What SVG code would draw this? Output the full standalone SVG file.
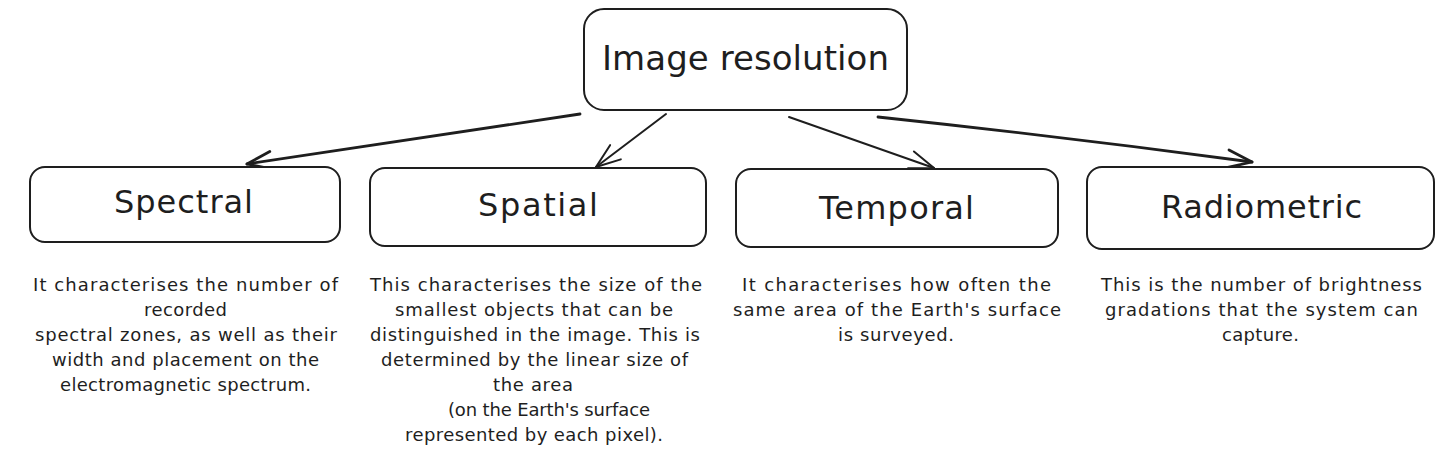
<svg xmlns="http://www.w3.org/2000/svg" width="1443" height="458" viewBox="0 0 1443 458">
  <style>
    .box { fill: #ffffff; stroke: #1e1e1e; stroke-width: 2; }
    .title { font-family: "DejaVu Sans", "Liberation Sans", sans-serif; font-size: 32px; fill: #1e1e1e; text-anchor: middle; }
    .main { font-size: 34px; }
    .desc { font-family: "DejaVu Sans", "Liberation Sans", sans-serif; font-size: 18px; fill: #1e1e1e; text-anchor: middle; }
    .conn { fill: none; stroke: #1e1e1e; stroke-linecap: round; }
    .thick { stroke-width: 2.8; }
    .thin { stroke-width: 2; }
  </style>
  <defs>
    <marker id="arrowThick" markerUnits="userSpaceOnUse" viewBox="-30 -15 34 30" refX="0" refY="0" markerWidth="34" markerHeight="30" orient="auto">
      <path d="M -24.4 -8.9 L 0 0 L -24.4 8.9" fill="none" stroke="#1e1e1e" stroke-width="2.8" stroke-linecap="round" stroke-linejoin="round"/>
    </marker>
    <marker id="arrowThin" markerUnits="userSpaceOnUse" viewBox="-30 -15 34 30" refX="0" refY="0" markerWidth="34" markerHeight="30" orient="auto">
      <path d="M -24.4 -8.9 L 0 0 L -24.4 8.9" fill="none" stroke="#1e1e1e" stroke-width="2" stroke-linecap="round" stroke-linejoin="round"/>
    </marker>
  </defs>
  <rect width="1443" height="458" fill="#ffffff"/>

  <g id="connectors">
    <path class="conn thick" d="M 580 114 L 247 164" marker-end="url(#arrowThick)"/>
    <path class="conn thin" d="M 666 114 L 596 167" marker-end="url(#arrowThin)"/>
    <path class="conn thin" d="M 789 117 L 934 168" marker-end="url(#arrowThin)"/>
    <path class="conn thick" d="M 878 117 Q 1066 137 1252 162" marker-end="url(#arrowThick)"/>
  </g>

  <g id="node-image-resolution">
    <rect class="box" x="584" y="9" width="323" height="101" rx="20" ry="20"/>
    <text class="title main" x="745.5" y="70" textLength="287">Image resolution</text>
  </g>

  <g id="node-spectral">
    <rect class="box" x="30" y="167" width="310" height="75" rx="15" ry="15"/>
    <text class="title" x="183.5" y="213" textLength="139">Spectral</text>
  </g>

  <g id="node-spatial">
    <rect class="box" x="370" y="168" width="336" height="78" rx="15" ry="15"/>
    <text class="title" x="538" y="216" textLength="120">Spatial</text>
  </g>

  <g id="node-temporal">
    <rect class="box" x="736" y="169" width="322" height="78" rx="15" ry="15"/>
    <text class="title" x="896.5" y="219" textLength="155">Temporal</text>
  </g>

  <g id="node-radiometric">
    <rect class="box" x="1087" y="167" width="347" height="82" rx="15" ry="15"/>
    <text class="title" x="1261.5" y="218" textLength="201">Radiometric</text>
  </g>

  <g id="text-spectral">
    <text class="desc" x="185.5" y="291" textLength="305">It characterises the number of</text>
    <text class="desc" x="185.5" y="316" textLength="83">recorded</text>
    <text class="desc" x="186" y="341" textLength="302">spectral zones, as well as their</text>
    <text class="desc" x="185.5" y="366" textLength="267">width and placement on the</text>
    <text class="desc" x="185.5" y="391" textLength="251">electromagnetic spectrum.</text>
  </g>

  <g id="text-spatial">
    <text class="desc" x="536" y="291" textLength="332">This characterises the size of the</text>
    <text class="desc" x="534" y="316" textLength="278">smallest objects that can be</text>
    <text class="desc" x="535" y="341" textLength="330">distinguished in the image. This is</text>
    <text class="desc" x="534.5" y="366" textLength="307">determined by the linear size of</text>
    <text class="desc" x="533" y="391" textLength="80">the area</text>
    <text class="desc" x="549" y="416" textLength="202">(on the Earth's surface</text>
    <text class="desc" x="534" y="441" textLength="258">represented by each pixel).</text>
  </g>

  <g id="text-temporal">
    <text class="desc" x="896.5" y="291" textLength="309">It characterises how often the</text>
    <text class="desc" x="897" y="316" textLength="328">same area of the Earth's surface</text>
    <text class="desc" x="896" y="341" textLength="116">is surveyed.</text>
  </g>

  <g id="text-radiometric">
    <text class="desc" x="1261.5" y="291" textLength="321">This is the number of brightness</text>
    <text class="desc" x="1261.5" y="316" textLength="313">gradations that the system can</text>
    <text class="desc" x="1260.5" y="341" textLength="77">capture.</text>
  </g>
</svg>
